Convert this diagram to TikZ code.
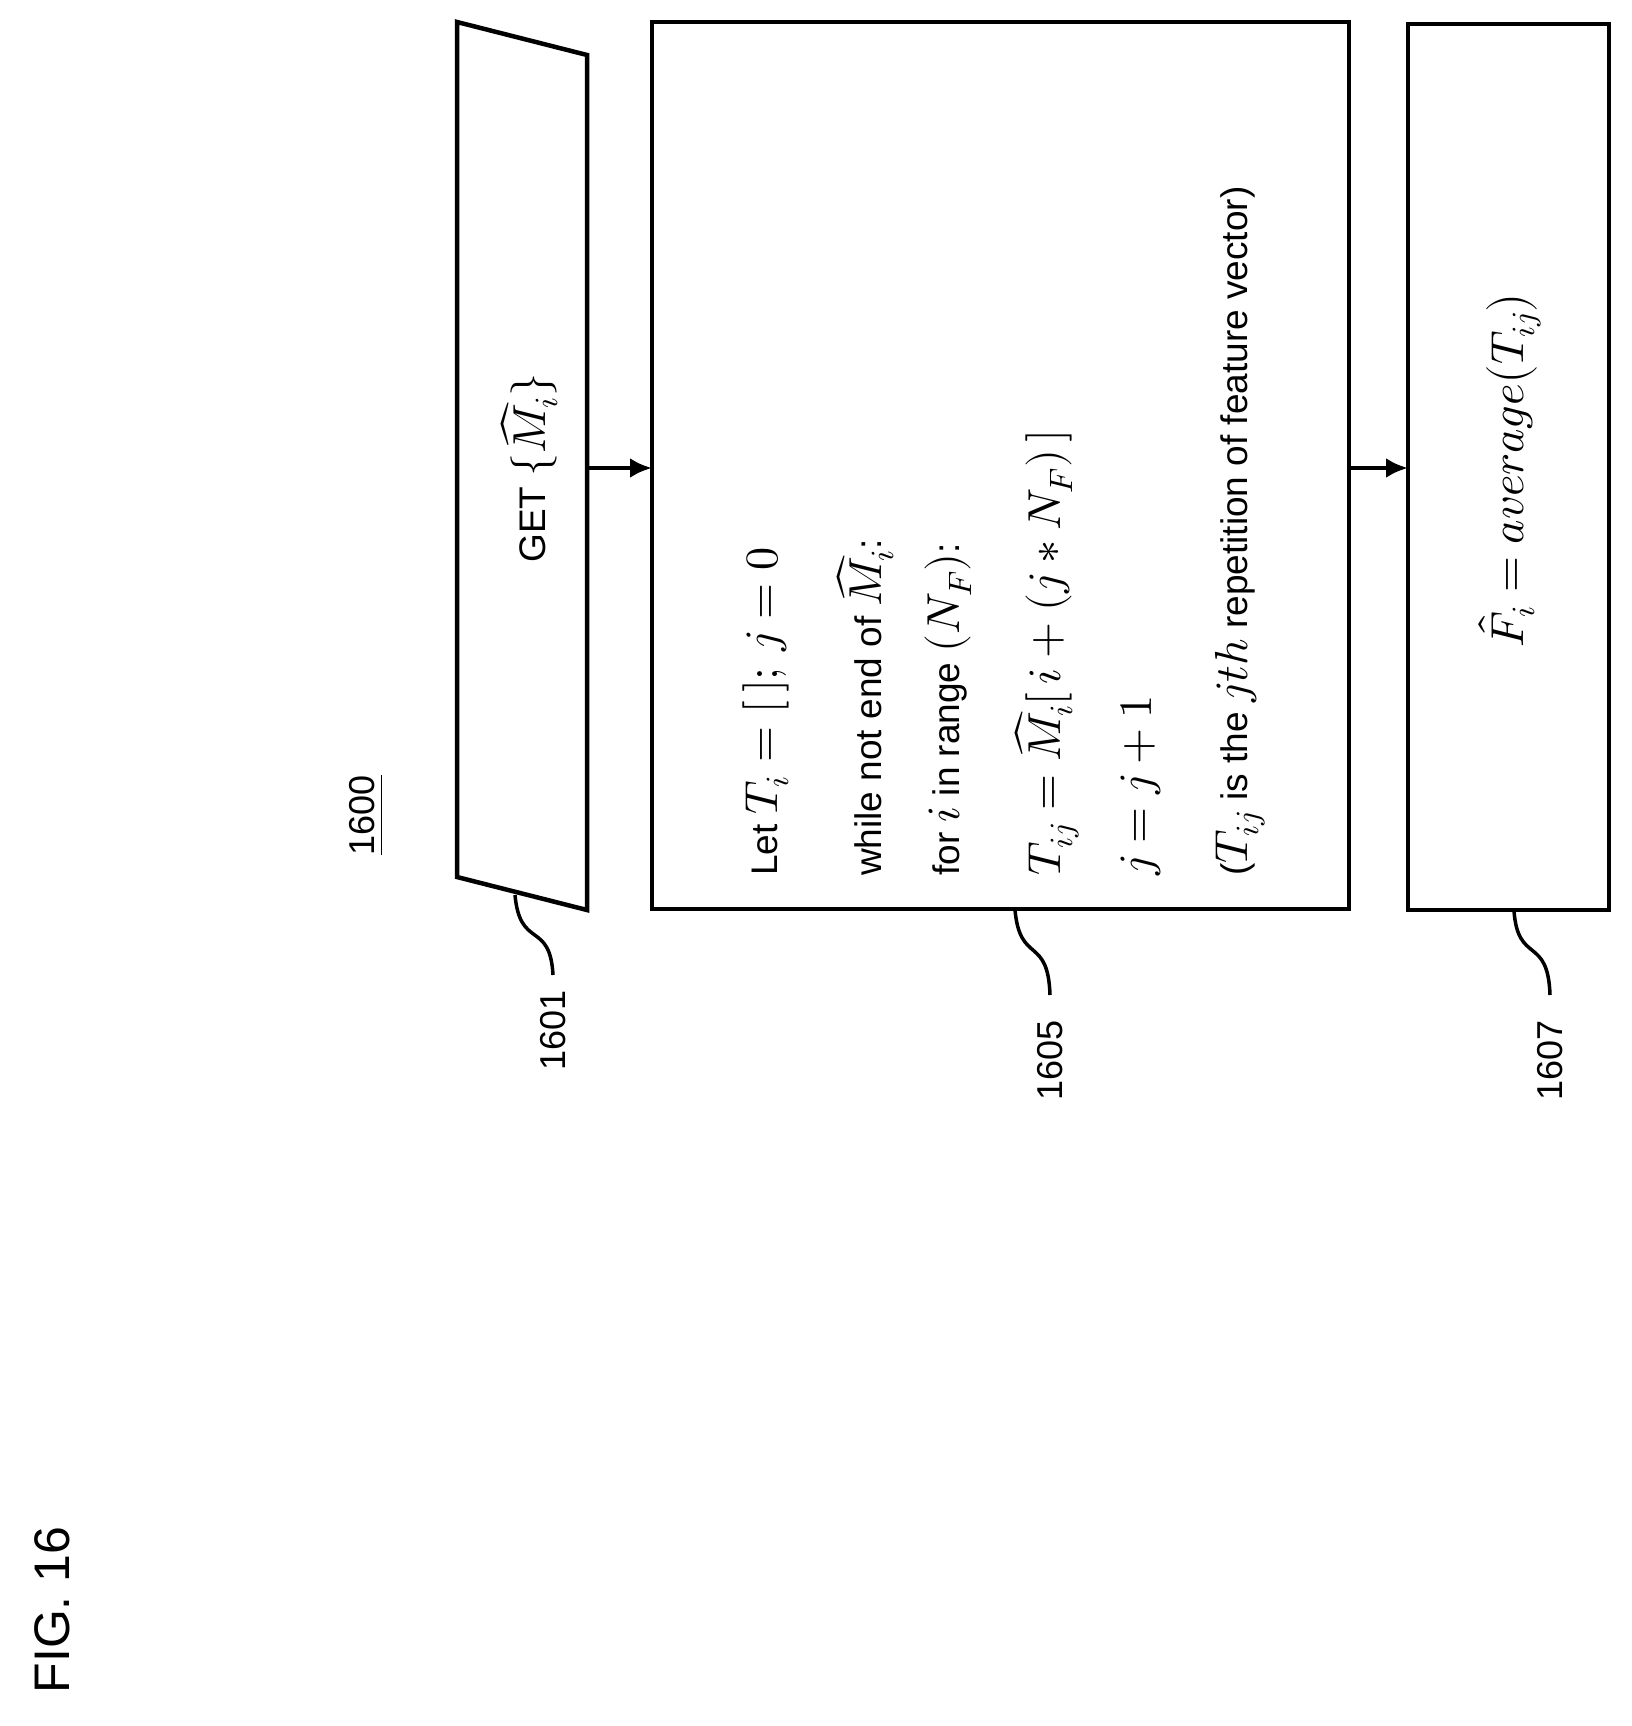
\documentclass[tikz,border=0pt]{standalone}
\usepackage{fontspec}
\usepackage{amsmath}
\usepackage{unicode-math}
\setmainfont{Liberation Sans}
\setmathfont{Latin Modern Math}[Scale=1.25]
\usetikzlibrary{arrows.meta}
\begin{document}
\begin{tikzpicture}[x=1pt,y=-1pt,
  box/.style={draw,line width=4.5pt},
  txt/.style={rotate=90,font=\fontsize{37}{44}\selectfont,inner sep=0pt},
  lbl/.style={rotate=90,font=\fontsize{36}{40}\selectfont,inner sep=0pt},
  conn/.style={line width=4.5pt,-{Latex[length=22pt,width=20pt]}},
  sq/.style={line width=3.5pt}]
\useasboundingbox (0,0) rectangle (1631,1726);
% trapezoid 1601
\draw[box] (457,22) -- (587,55) -- (587,910) -- (457,877) -- cycle;
\coordinate (t1) at (587,468);
\node[txt] (get) at (529,468) {GET $\{\widehat{M}_i\}$};
% box 1605
\draw[box] (652,22) rectangle (1349,909);
\coordinate (b1l) at (652,468);
\coordinate (b1r) at (1349,468);
\node[txt,anchor=west] (l1) at (766,876) {Let $T_i=[\,];\,j=0$};
\node[txt,anchor=west] (l2) at (865,876) {while not end of $\widehat{M}_i$:};
\node[txt,anchor=west] (l3) at (948,876) {for $i$ in range $(N_F)$:};
\node[txt,anchor=west] (l4) at (1047,876) {$T_{ij}=\widehat{M}_i[\,i+(j*N_F)\,]$};
\node[txt,anchor=west] (l5) at (1141,876) {$j=j+1$};
\node[txt,anchor=west] (l6) at (1240,876) {($T_{ij}$ is the $jth$ repetition of feature vector)};
% box 1607
\draw[box] (1408,24) rectangle (1609,910);
\coordinate (b2l) at (1408,468);
\node[txt] (fi) at (1510,470) {$\hat{F}_i = average\bigl(T_{ij}\bigr)$};
% arrows
\draw[conn] (t1) -- (b1l);
\draw[conn] (b1r) -- (b2l);
% labels
\node[lbl] (n1600) at (367,815) {\underline{1600}};
\node[lbl] (n1601) at (553,1030) {1601};
\node[lbl] (n1605) at (1050,1060) {1605};
\node[lbl] (n1607) at (1550,1060) {1607};
\coordinate (s1) at (515,895);
\coordinate (s2) at (1015,910);
\coordinate (s3) at (1514,911);
\draw[sq] (s1) .. controls (520,950) and (550,920) .. (553,975);
\draw[sq] (s2) .. controls (1020,965) and (1048,935) .. (1050,995);
\draw[sq] (s3) .. controls (1518,965) and (1548,935) .. (1550,995);
\node[rotate=90,font=\fontsize{50}{56}\selectfont,inner sep=0pt] (fig) at (52,1610) {FIG. 16};
\end{tikzpicture}
\end{document}
